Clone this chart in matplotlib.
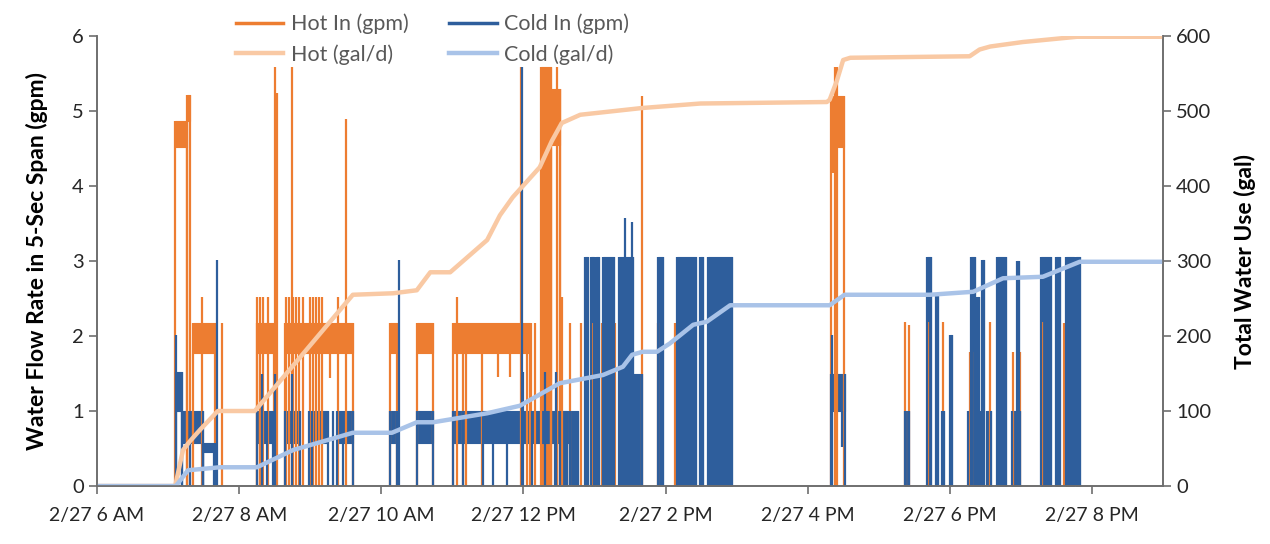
import matplotlib.pyplot as plt
from matplotlib.ticker import FuncFormatter, MultipleLocator

plt.rcParams['font.family'] = ['Lato', 'DejaVu Sans']

HOT = '#ED7D31'
COLD = '#2E5E9C'
HOT_TOTAL = '#F9C9A4'
COLD_TOTAL = '#A9C3E8'

# Hot inlet flow, 5-sec samples (gpm)
# dense bursts: (start hour, end hour, low, high)
hot_bursts = [
    (7.10, 7.27, 4.52, 4.87), (7.27, 7.31, 4.87, 5.22),
    (7.35, 7.66, 1.77, 2.17), (8.25, 8.49, 1.77, 2.17),
    (8.65, 9.60, 1.77, 2.17), (10.12, 10.22, 1.77, 2.17),
    (10.50, 10.73, 1.77, 2.17), (11.01, 12.10, 1.77, 2.17),
    (12.25, 12.39, 0.00, 5.59), (12.39, 12.52, 4.55, 5.30),
    (16.33, 16.51, 4.52, 5.20),
]
# single samples: (hour, from, to)
hot_strokes = [
    (7.48, 0, 2.52), (7.76, 0, 2.17),
    (8.25, 0, 2.52), (8.29, 0, 2.52), (8.34, 0, 2.52), (8.41, 0, 2.52),
    (8.50, 0, 5.59), (8.53, 0, 5.24), (8.74, 0, 5.59),
    (8.66, 0, 2.52), (8.70, 0, 2.52), (8.76, 0, 2.52), (8.80, 0, 2.52),
    (8.84, 0, 2.52), (8.90, 0, 2.52), (9.00, 0, 2.52), (9.04, 0, 2.52),
    (9.08, 0, 2.52), (9.12, 0, 2.52), (9.17, 0, 2.52), (9.39, 0, 2.52),
    (9.28, 1.44, 1.77), (9.50, 0, 4.90),
    (11.07, 0, 2.52), (11.15, 0, 1.77), (11.19, 0, 1.77), (11.42, 0, 1.77),
    (11.64, 1.45, 1.77), (11.81, 1.45, 1.77),
    (11.97, 0, 5.59), (12.05, 0, 2.17), (12.11, 0, 2.17), (12.16, 0, 2.17),
    (12.47, 0, 5.59), (12.52, 0, 5.30),
    (12.54, 0, 2.52), (12.66, 0, 2.17), (12.81, 0, 2.17), (12.98, 0, 2.17),
    (13.11, 0, 2.17), (13.29, 0, 2.17), (13.67, 0, 5.20),
    (13.89, 0, 2.17), (14.13, 0, 2.17),
    (16.38, 0, 5.59), (16.41, 0, 5.59), (16.36, 4.17, 4.52),
    (17.37, 0, 2.19), (17.43, 0, 2.15), (17.69, 0, 2.19), (17.90, 0, 2.19),
    (18.28, 0, 1.79), (18.35, 0, 1.79), (18.47, 0, 1.79), (18.57, 0, 2.19),
    (18.89, 0, 1.79), (18.99, 0, 1.79), (19.30, 0, 2.19), (19.61, 0, 2.17),
]

# Cold inlet flow (gpm)
cold_bursts = [
    (7.11, 7.19, 1.00, 1.52), (7.19, 7.49, 0.57, 1.00), (7.49, 7.64, 0.45, 0.57),
    (8.25, 8.47, 0.57, 1.00), (8.65, 8.86, 0.57, 1.00), (8.99, 9.25, 0.57, 1.00),
    (9.38, 9.60, 0.57, 1.00), (10.12, 10.22, 0.57, 1.00), (10.50, 10.73, 0.57, 1.00),
    (11.01, 12.66, 0.57, 1.00),
    (12.52, 12.61, 0.00, 1.00), (12.66, 12.77, 0.00, 1.00),
    (12.87, 12.91, 0.00, 3.05), (12.95, 12.99, 0.00, 3.05), (13.02, 13.06, 0.00, 3.05),
    (13.12, 13.28, 0.00, 3.05), (13.35, 13.54, 0.00, 3.05), (13.54, 13.67, 0.00, 1.50),
    (13.89, 13.96, 0.00, 3.05), (14.16, 14.43, 0.00, 3.05), (14.49, 14.53, 0.00, 3.05),
    (14.60, 14.94, 0.00, 3.05),
    (16.33, 16.52, 1.00, 1.50),
    (17.37, 17.43, 0, 1.00), (17.68, 17.73, 0, 3.05), (17.80, 17.83, 0, 2.55),
    (17.89, 17.92, 0, 1.00), (18.00, 18.03, 0, 2.02), (18.26, 18.42, 0, 1.00),
    (18.30, 18.36, 0, 3.05), (18.39, 18.41, 0, 2.52), (18.45, 18.48, 0, 3.02),
    (18.53, 18.58, 0, 1.00), (18.66, 18.79, 0, 3.05), (18.87, 18.99, 0, 1.00),
    (18.94, 18.98, 0, 3.00), (19.29, 19.42, 0, 3.05), (19.50, 19.55, 0, 3.05),
    (19.63, 19.75, 0, 3.05), (19.78, 19.83, 0, 3.05),
]
cold_strokes = [
    (7.11, 0, 2.01), (7.31, 0, 1.00), (7.49, 0, 0.57), (7.66, 0, 0.57),
    (7.69, 0, 3.01), (8.32, 0, 1.50), (8.39, 0, 1.00), (8.50, 0, 1.50),
    (8.74, 0, 1.50), (9.03, 0, 1.00), (9.32, 0, 1.00), (9.46, 0, 1.00),
    (10.25, 0, 3.01), (11.15, 0, 1.00), (11.43, 0, 1.00), (11.57, 0, 1.00),
    (11.77, 0, 1.00), (11.98, 0, 5.59), (12.00, 0, 1.52), (12.12, 0, 1.00),
    (12.30, 0, 1.52), (12.44, 0, 1.00), (12.46, 0, 1.52),
    (13.43, 0, 3.57), (13.53, 0, 3.52),
    (16.34, 0, 2.01), (16.48, 0.52, 1.00),
]

# Running daily totals (gal)
hot_total_t = [6.0, 7.10, 7.21, 7.31, 7.45, 7.70, 8.22, 9.60, 10.17, 10.50, 10.69,
               10.97, 11.49, 11.67, 11.85, 12.23, 12.40, 12.54, 12.80, 13.67, 14.49,
               16.27, 16.31, 16.41, 16.50, 16.60, 18.28, 18.42, 18.57, 19.03, 19.79, 21.0]
hot_total_gal = [0, 0, 48, 60, 75, 100, 100, 255, 257, 261, 285,
                 285, 328, 361, 385, 425, 460, 484, 495, 504, 510,
                 512, 515, 540, 568, 571, 573, 582, 586, 592, 599, 599]
cold_total_t = [6.0, 7.11, 7.28, 7.73, 8.25, 8.76, 9.60, 10.15, 10.50, 10.73, 11.49,
                11.95, 12.51, 13.12, 13.40, 13.53, 13.68, 13.88, 14.06, 14.39, 14.58,
                14.91, 16.31, 16.52, 17.72, 18.33, 18.75, 19.31, 19.83, 21.0]
cold_total_gal = [0, 0, 21, 25, 25, 48, 71, 71, 85, 85, 97,
                  107, 137, 148, 159, 175, 179, 179, 190, 215, 219,
                  241, 241, 255, 255, 259, 277, 279, 299, 299]

hour_ticks = [6, 8, 10, 12, 14, 16, 18, 20]


def draw_flow(ax, bursts, strokes, color, label):
    for t0, t1, lo, hi in bursts:
        ax.fill_between([t0, t1], lo, hi, color=color, lw=0.8, edgecolor=color)
        ax.vlines([t0, t1], 0, hi, color=color, lw=1.6)
    ts = [s[0] for s in strokes]
    ax.vlines(ts, [s[1] for s in strokes], [s[2] for s in strokes], color=color, lw=1.6)
    ax.plot([], [], color=color, lw=2.5, label=label)


def hour_label(h, pos):
    h = int(round(h))
    suffix = 'AM' if h < 12 else 'PM'
    h12 = h if h <= 12 else h - 12
    return '2/27 %d %s' % (h12, suffix)


fig = plt.figure(figsize=(12.7, 5.44), dpi=100)
ax1 = fig.add_axes([0.0764, 0.1066, 0.8393, 0.8272])
ax2 = ax1.twinx()

draw_flow(ax1, hot_bursts, hot_strokes, HOT, 'Hot In (gpm)')
draw_flow(ax1, cold_bursts, cold_strokes, COLD, 'Cold In (gpm)')

ax2.plot(hot_total_t, hot_total_gal, color=HOT_TOTAL, lw=3.2, label='Hot (gal/d)',
         solid_joinstyle='round')
ax2.plot(cold_total_t, cold_total_gal, color=COLD_TOTAL, lw=3.2, label='Cold (gal/d)',
         solid_joinstyle='round')

ax1.set_xlim(6, 21)
ax1.set_ylim(0, 6)
ax2.set_ylim(0, 600)
ax1.set_xticks(hour_ticks)
ax1.xaxis.set_major_formatter(FuncFormatter(hour_label))
ax1.yaxis.set_major_locator(MultipleLocator(1))
ax2.yaxis.set_major_locator(MultipleLocator(100))

for ax in (ax1, ax2):
    ax.spines['top'].set_visible(False)
    for side in ('left', 'right', 'bottom'):
        ax.spines[side].set_color('#6E6E6E')
        ax.spines[side].set_linewidth(1.2)
    ax.tick_params(labelsize=14.5, length=6, width=1.2, color='#6E6E6E',
                   labelcolor='#262626', direction='out')
ax1.tick_params(axis='x', labelsize=14, pad=9)

ax1.set_ylabel('Water Flow Rate in 5-Sec Span (gpm)', fontsize=16.5,
               fontweight='bold', labelpad=17)
ax2.set_ylabel('Total Water Use (gal)', fontsize=16.5, fontweight='bold', labelpad=16)

# legend: hot items in the first column, cold in the second
h1, l1 = ax1.get_legend_handles_labels()
h2, l2 = ax2.get_legend_handles_labels()
handles = [h1[0], h2[0], h1[1], h2[1]]
labels = [l1[0], l2[0], l1[1], l2[1]]
leg = fig.legend(handles, labels, ncol=2, loc='center', bbox_to_anchor=(0.3405, 0.928),
                 frameon=False, fontsize=15.5, handlelength=2.2, handletextpad=0.35,
                 columnspacing=1.9, labelspacing=0.45, borderpad=0)
for txt in leg.get_texts():
    txt.set_color('#595959')

fig.savefig('out.png', dpi=100)
